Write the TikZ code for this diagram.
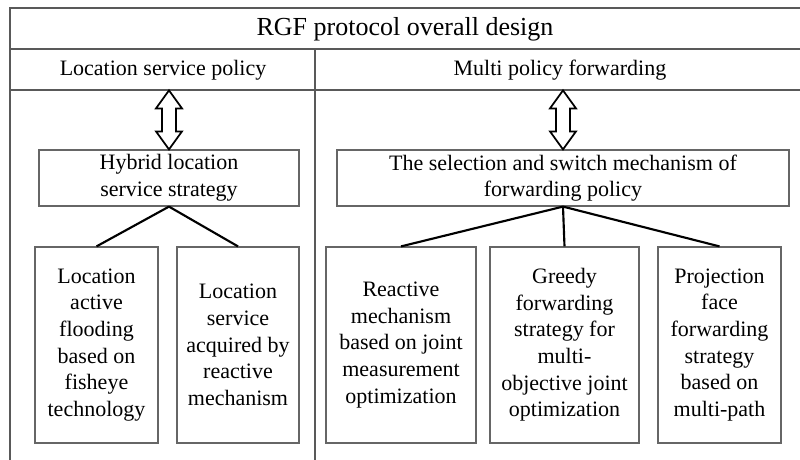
\documentclass[tikz,border=0pt]{standalone}
\usepackage{fontspec}
\setmainfont{Liberation Serif}
\usepackage{tikz}
\usepackage{xcolor}

\tikzset{
  frameline/.style={draw=black!65, line width=0.9pt},
  box/.style={draw=black!60, line width=0.9pt, rectangle, inner sep=0.75pt, align=center,
    font=\fontsize{16.5}{20}\selectfont},
  hdr/.style={inner sep=0.75pt, font=\fontsize{16.5}{20}\selectfont},
  link/.style={draw=black, line width=1.6pt},
  dblarr/.style={draw=black, line width=1.3pt, fill=white, line join=miter},
}

\begin{document}
\begin{tikzpicture}[x=0.75pt,y=0.75pt,yscale=-1,xscale=1]
\useasboundingbox (0,0) rectangle (800,460);

%Frame lines
\draw[frameline] (800,8) -- (10,8) -- (10,460);
\draw[frameline] (10,49) -- (800,49);
\draw[frameline] (10,90) -- (800,90);
\draw[frameline] (315,49) -- (315,460);

% Text Node
\node[hdr, font=\fontsize{19.5}{23}\selectfont] (title) at (405,29) {RGF protocol overall design};
% Text Node
\node[hdr] (lsp) at (163,70) {Location service policy};
% Text Node
\node[hdr] (mpf) at (560,70) {Multi policy forwarding};

%Second level
\node[box, minimum width=195pt, minimum height=42pt] (lhyb) at (169,178) {Hybrid location\\service strategy};
\node[box, minimum width=339pt, minimum height=42pt] (sel) at (563,178) {The selection and switch mechanism of\\forwarding policy};

%Leaf boxes
\node[box, minimum width=92.25pt, minimum height=147pt] (lflood) at (96.5,345) {Location\\active\\flooding\\based on\\fisheye\\technology};
\node[box, minimum width=91.5pt, minimum height=147pt] (lacq) at (238,345) {Location\\service\\acquired by\\reactive\\mechanism};
\node[box, minimum width=112.5pt, minimum height=147pt] (react) at (401,345) {Reactive\\mechanism\\based on joint\\measurement\\optimization};
\node[box, minimum width=111.75pt, minimum height=147pt] (greedy) at (564.5,345) {Greedy\\forwarding\\strategy for\\multi-\\objective joint\\optimization};
\node[box, minimum width=92.25pt, minimum height=147pt] (proj) at (719.5,345) {Projection\\face\\forwarding\\strategy\\based on\\multi-path};

%Double arrows
\foreach \b in {lhyb,sel}
  \draw[dblarr] (\b.north) -- ++(-13,-18) -- ++(6,0) -- ++(0,-23) -- ++(-6,0) -- ++(13,-18)
    -- ++(13,18) -- ++(-6,0) -- ++(0,23) -- ++(6,0) -- cycle;

%Tree links
\draw[link] (lhyb.south) -- (lflood.north);
\draw[link] (lhyb.south) -- (lacq.north);
\draw[link] (sel.south) -- (react.north);
\draw[link] (sel.south) -- (greedy.north);
\draw[link] (sel.south) -- (proj.north);

\end{tikzpicture}
\end{document}
